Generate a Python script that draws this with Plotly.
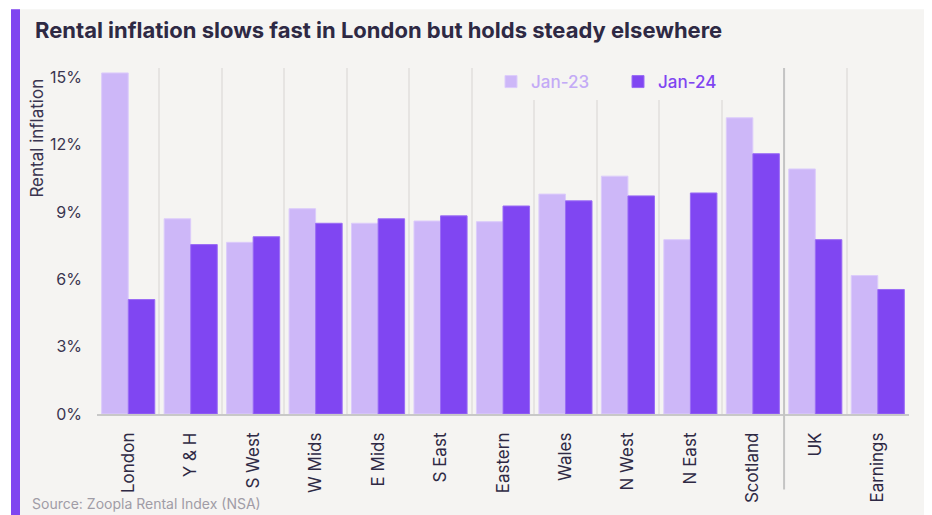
import plotly.graph_objects as go

categories = ["London", "Y & H", "S West", "W Mids", "E Mids", "S East", "Eastern",
              "Wales", "N West", "N East", "Scotland", "UK", "Earnings"]
jan23 = [15.2, 8.7, 7.65, 9.15, 8.5, 8.6, 8.57, 9.8, 10.6, 7.77, 13.2, 10.92, 6.17]
jan24 = [5.1, 7.55, 7.9, 8.5, 8.7, 8.83, 9.27, 9.5, 9.72, 9.85, 11.6, 7.77, 5.55]
ytick_vals = [0, 3, 6, 9, 12, 15]
ytick_text = ["0%", "3%", "6%", "9%", "12%", "15%"]

LIGHT = "#CDB7F8"
DARK = "#8046F2"
BG = "#F5F4F2"
TXT = "#2E2944"
FONT = "Inter"

fig = go.Figure()
fig.add_trace(go.Bar(x=categories, y=jan23, name='<span style="color:#C3AAF6">Jan-23</span>',
                     marker=dict(color=LIGHT, line=dict(color="#DCCCFB", width=1))))
fig.add_trace(go.Bar(x=categories, y=jan24, name='<span style="color:#7F45F1">Jan-24</span>',
                     marker=dict(color=DARK, line=dict(color="#9A6CF5", width=1))))

OFF = 8  # page body margin
W, H = 932 - OFF, 515 - OFF
L, R, T, B = 97 - OFF, 23, 68 - OFF, 515 - 416
pw, ph = W - L - R, H - T - B

def px_x(p):
    return (p - OFF - L) / pw

def px_y(p):
    return (H - B - (p - OFF)) / ph

fig.update_layout(
    width=W, height=H,
    margin=dict(l=L, r=R, t=T, b=B),
    paper_bgcolor=BG, plot_bgcolor=BG,
    barmode="group", bargap=0.15, bargroupgap=0,
    font=dict(family=FONT, color=TXT),
    showlegend=True,
    legend=dict(orientation="h", x=px_x(491), y=px_y(64), xanchor="left", yanchor="top",
                bgcolor=BG, font=dict(size=17, family=FONT, weight=500),
                entrywidth=82, entrywidthmode="pixels", itemwidth=30,
                traceorder="normal"),
    xaxis=dict(type="category", tickson="boundaries", showgrid=True,
               gridcolor="#E6E4E2", gridwidth=1.5, tickangle=-90,
               ticks="", ticklabelstandoff=10,
               tickfont=dict(size=17, color=TXT, family=FONT),
               showline=True, linecolor="#C8C8C8", linewidth=1.5,
               range=[-0.5, 12.5]),
    yaxis=dict(range=[0, 15.42], tickvals=ytick_vals, ticktext=ytick_text,
               showgrid=False, zeroline=False, showline=False, ticks="",
               ticklabelstandoff=14,
               tickfont=dict(size=16, color="#3A3550", family=FONT)),
    shapes=[
        dict(type="rect", xref="paper", yref="paper", x0=px_x(0), x1=px_x(11),
             y0=px_y(H + 20), y1=px_y(-10), fillcolor="white", line=dict(width=0)),
        dict(type="rect", xref="paper", yref="paper", x0=px_x(-10), x1=px_x(W + 20),
             y0=px_y(9), y1=px_y(-10), fillcolor="white", line=dict(width=0)),
        dict(type="rect", xref="paper", yref="paper", x0=px_x(11), x1=px_x(20),
             y0=px_y(H + 20), y1=px_y(9), fillcolor="#7F45F0", line=dict(width=0)),
        dict(type="line", xref="x", yref="paper", x0=10.5, x1=10.5,
             y0=px_y(492), y1=1, line=dict(color="#C4C4C4", width=2)),
    ],
    annotations=[
        dict(text="<b>Rental inflation slows fast in London but holds steady elsewhere</b>",
             xref="paper", yref="paper", x=px_x(33), y=px_y(30), xanchor="left", yanchor="middle",
             showarrow=False, font=dict(size=22, color=TXT, family=FONT)),
        dict(text="Rental inflation", textangle=-90, xref="paper", yref="paper",
             x=px_x(37), y=px_y(138), xanchor="center", yanchor="middle",
             showarrow=False, font=dict(size=17, color="#3A3550", family=FONT)),
        dict(text="Source: Zoopla Rental Index (NSA)", xref="paper", yref="paper",
             x=px_x(30), y=px_y(506), xanchor="left", yanchor="middle",
             showarrow=False, font=dict(size=14, color="#A09CA6", family=FONT)),
    ],
)

fig.write_html("out.html")
